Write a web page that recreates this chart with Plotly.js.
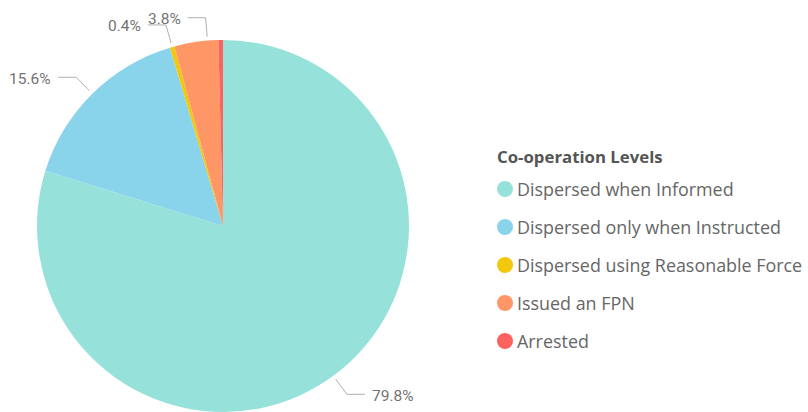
<!DOCTYPE html>
<html><head><meta charset="utf-8">
<script src="https://cdn.plot.ly/plotly-3.0.1.min.js"></script>
<style>html,body{margin:0;padding:0;background:#fff}#chart{width:808px;height:412px}</style>
</head><body><div id="chart"></div>
<script>
// ---- data ----
const categories = ["Dispersed when Informed","Dispersed only when Instructed","Dispersed using Reasonable Force","Issued an FPN","Arrested"];
const values = [79.8, 15.6, 0.4, 3.8, 0.4];
const colors = ["#96E2DA","#8AD4EB","#F2C80F","#FE9666","#FD625E"];
const legendTitle = "Co-operation Levels";
const showLabel = [true, true, true, true, false];

// ---- layout config ----
const W = 808, H = 412;
const cx = 223, cy = 226, r = 186;
const labelAngleShift = [0, 0, 0, 3.5, 0];
const px = x => x / W, py = y => 1 - y / H;

const total = values.reduce((a, b) => a + b, 0);
const shapes = [], annotations = [];
let cum = 0;
values.forEach((v, i) => {
  const mid = (cum + v / 2) / total * 360 + labelAngleShift[i];
  cum += v;
  if (!showLabel[i]) return;
  const a = mid * Math.PI / 180;
  const ux = Math.sin(a), uy = -Math.cos(a);
  const sx = cx + (r + 4) * ux, sy = cy + (r + 4) * uy;
  const ex = cx + (r + 23) * ux, ey = cy + (r + 23) * uy;
  const dir = ux >= 0 ? 1 : -1;
  const hx = ex + dir * 18;
  shapes.push({type: 'path', xref: 'paper', yref: 'paper',
    path: `M ${px(sx)},${py(sy)} L ${px(ex)},${py(ey)} L ${px(hx)},${py(ey)}`,
    line: {color: '#b0b0b0', width: 1}});
  annotations.push({xref: 'paper', yref: 'paper', x: px(hx + dir * 5), y: py(ey + 1.5),
    xanchor: dir > 0 ? 'left' : 'right', yanchor: 'middle', showarrow: false,
    text: (v / total * 100).toFixed(1) + '%',
    font: {family: 'Roboto, sans-serif', size: 15.5, color: '#737373'}});
});

// legend built from categories/colors
const lx = 497, ly0 = 157, lgap = 38;
annotations.push({xref: 'paper', yref: 'paper', x: px(lx - 2), y: py(ly0), xanchor: 'left', yanchor: 'middle',
  showarrow: false, text: '<b>' + legendTitle + '</b>',
  font: {family: 'Open Sans, sans-serif', size: 16.8, color: '#555555'}});
categories.forEach((c, i) => {
  const yc = ly0 + 32 + i * lgap;
  shapes.push({type: 'circle', xref: 'paper', yref: 'paper',
    x0: px(lx), x1: px(lx + 16), y0: py(yc - 8), y1: py(yc + 8),
    fillcolor: colors[i], line: {width: 0}});
  annotations.push({xref: 'paper', yref: 'paper', x: px(lx + 18), y: py(yc), xanchor: 'left', yanchor: 'middle',
    showarrow: false, text: c,
    font: {family: 'Open Sans, sans-serif', size: 17.9, color: '#666666'}});
});

const data = [{
  type: 'pie', labels: categories, values: values, sort: false,
  direction: 'clockwise', rotation: 0, textinfo: 'none', hoverinfo: 'skip',
  marker: {colors: colors, line: {width: 0}},
  domain: {x: [(cx - r) / W, (cx + r) / W], y: [(H - cy - r) / H, (H - cy + r) / H]},
  showlegend: false
}];

const layout = {
  width: W, height: H, margin: {l: 0, r: 0, t: 0, b: 0},
  paper_bgcolor: '#ffffff', showlegend: false,
  shapes: shapes, annotations: annotations
};
Plotly.newPlot('chart', data, layout, {displayModeBar: false, staticPlot: true});
</script>
</body></html>
